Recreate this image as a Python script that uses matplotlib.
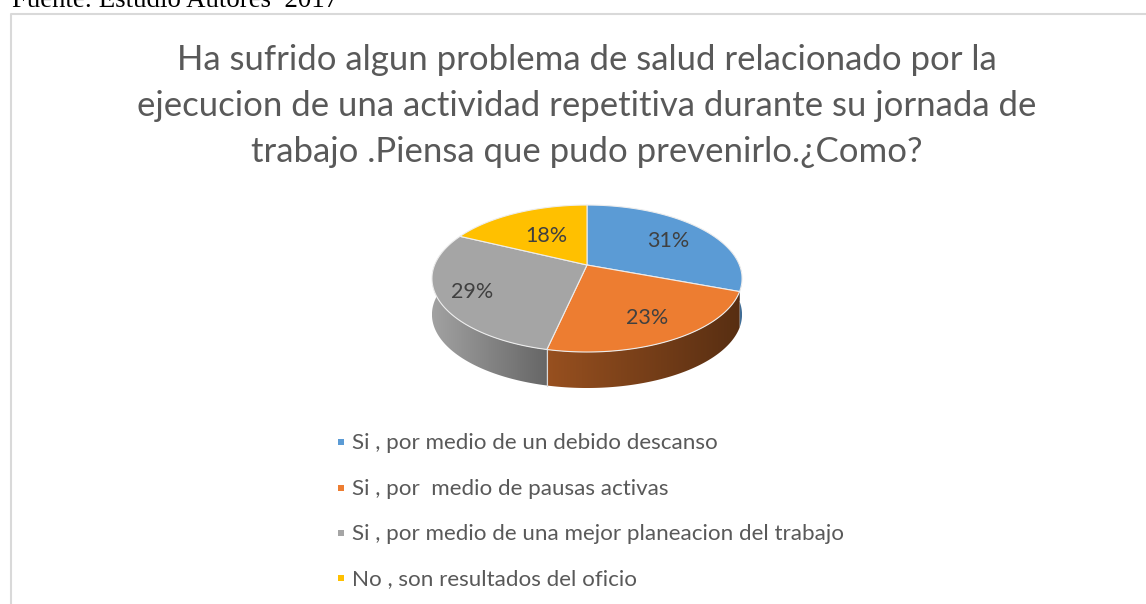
import numpy as np
import matplotlib
matplotlib.use('Agg')
import matplotlib.pyplot as plt
from matplotlib.patches import Polygon

# Data
categories = [
    'Si , por medio de un debido descanso',
    'Si , por  medio de pausas activas',
    'Si , por medio de una mejor planeacion del trabajo',
    'No , son resultados del oficio',
]
values = [31, 23, 29, 18]
colors = ['#5B9BD5', '#ED7D31', '#A5A5A5', '#FFC000']
title_lines = [
    'Ha sufrido algun problema de salud relacionado por la',
    'ejecucion de una actividad repetitiva durante su jornada de',
    'trabajo .Piensa que pudo prevenirlo.¿Como?',
]
source_text = 'Fuente: Estudio Autores  2017'

# Layout, in pixels of the 1146x604 canvas
CX, CY = 587, 265
RX, RY = 152.4, 71
PERSP = -0.184
DEPTH = 36
side_shades = [(0.75, 0.7), (0.64, 0.37), (0.98, 0.62), (0.6, 0.6)]
label_pos = [(668, 241), (647, 318), (472, 292), (546, 236)]
legend_y = [443, 489, 534, 579]


def project(theta):
    """Map clockwise-from-top angles on the disc to tilted screen coords."""
    u, v = np.sin(theta), -np.cos(theta)
    den = 1 + PERSP * v
    return CX + RX * u / den, CY + RY * v / den


plt.rcParams['font.family'] = ['Lato', 'DejaVu Sans']

fig = plt.figure(figsize=(11.46, 6.04), dpi=100)
ax = fig.add_axes([0, 0, 1, 1])

# Chart frame, runs off the right and bottom of the page
ax.plot([1146, 11, 11], [14, 14, 604], color='#D9D9D9', linewidth=1.5)
ax.text(12, 7, source_text, family='Liberation Serif', fontsize=19.4,
        color='black', va='baseline', ha='left')

for i, line in enumerate(title_lines):
    ax.text(587, 60.5 + i * 45.7, line, fontsize=25.05, color='#595959',
            ha='center', va='center')

edges = np.cumsum([0] + values) / sum(values) * 2 * np.pi

# Side wall first, the top face covers the back part of it
for k in range(len(values)):
    angles = np.linspace(edges[k], edges[k + 1], 200)
    angles = angles[-np.cos(angles) > -0.2]
    if len(angles) < 2:
        continue
    px, py = project(angles)
    wall = list(zip(px, py)) + list(zip(px[::-1], py[::-1] + DEPTH))
    base = np.array(matplotlib.colors.to_rgb(colors[k]))
    shade = np.linspace(side_shades[k][0], side_shades[k][1], 256)
    grad = base[None, None, :] * shade[None, :, None]
    img = ax.imshow(grad, extent=(px.min(), px.max(), py.max() + DEPTH, py.min()),
                    aspect='auto', interpolation='bilinear', zorder=1)
    clip = Polygon(wall, transform=ax.transData, facecolor='none', edgecolor='none')
    ax.add_patch(clip)
    img.set_clip_path(clip)

# Top face
for k in range(len(values)):
    angles = np.linspace(edges[k], edges[k + 1], 120)
    px, py = project(angles)
    pts = [(CX, CY)] + list(zip(px, py))
    ax.add_patch(Polygon(pts, facecolor=colors[k], edgecolor='#EDEDED',
                         linewidth=0.8, joinstyle='round', zorder=2))
    ax.text(*label_pos[k], f'{values[k]}%', fontsize=15.5, color='#404040',
            ha='center', va='center', zorder=3)

# Seam on the front wall where orange meets gray
sx, sy = project(edges[2])
ax.plot([sx, sx], [sy, sy + DEPTH], color='#D9D9D9', linewidth=0.8, zorder=2)

# Legend
for name, col, y in zip(categories, colors, legend_y):
    ax.scatter([341], [y - 1], marker='s', s=22, color=col, linewidths=0)
    ax.text(352, y, name, fontsize=16.1, color='#595959', ha='left', va='center')

ax.set_xlim(0, 1146)
ax.set_ylim(604, 0)
ax.axis('off')

plt.savefig('out.png', dpi=100)
plt.close()
